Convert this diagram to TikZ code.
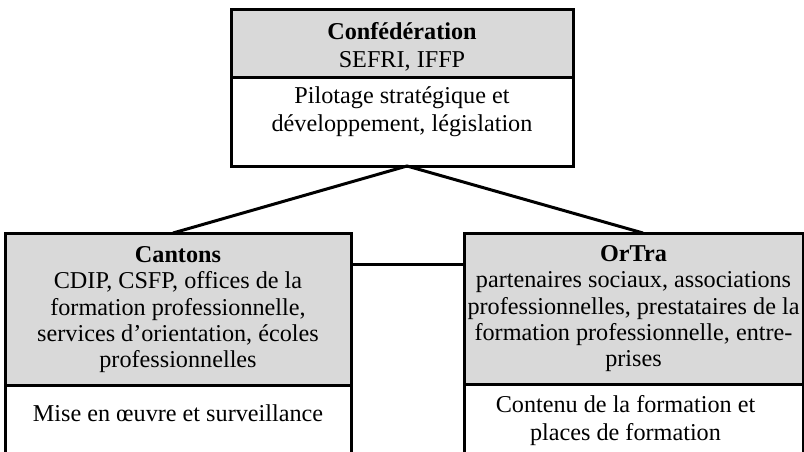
\documentclass[tikz,border=0pt]{standalone}
\usepackage{fontspec}
\setmainfont{Liberation Serif}
\usetikzlibrary{positioning}
\begin{document}
\begin{tikzpicture}[x=0.5pt,y=-0.5pt,
  every node/.style={font=\fontsize{12.1}{13.9}\selectfont},
  head/.style={draw,line width=1.5pt,fill=gray!30,align=center,outer sep=0pt,inner ysep=4pt,inner xsep=1pt},
  body/.style={draw,line width=1.5pt,fill=white,align=center,outer sep=0pt,inner ysep=4pt,inner xsep=1pt,below=0pt of #1},
  tight/.style={font=\fontsize{12.1}{13.1}\selectfont},
  link/.style={line width=1.5pt}]
\path[use as bounding box,clip] (0,0) rectangle (804,451);
% Confederation
\node[head,minimum width=171pt,text height=25pt,text depth=1pt] (H1) at (402,43)
  {\textbf{Confédération}\\SEFRI, IFFP};
\node[body=H1,minimum width=171pt,text height=23pt,text depth=13.5pt] (B1)
  {Pilotage stratégique et\\développement, législation};
% Cantons
\node[head,tight,minimum width=173pt,text height=63.25pt,text depth=4.75pt] (H2) at (178,309)
  {\textbf{Cantons}\\CDIP, CSFP, offices de la\\formation professionnelle,\\services d’orientation, écoles\\professionnelles};
\node[body=H2,minimum width=173pt,text height=14pt,text depth=40pt] (B2)
  {Mise en œuvre et surveillance};
% OrTra
\node[head,tight,minimum width=169.5pt,text height=62.75pt,text depth=4.75pt] (H3) at (633.5,308.5)
  {\textbf{OrTra}\\partenaires sociaux, associations\\professionnelles, prestataires de la\\formation professionnelle, entre-\\prises};
\node[body=H3,minimum width=169.5pt,text height=24pt,text depth=40pt] (B3)
  {Contenu de la formation et\kern8pt\\places de formation\kern8pt};
% links
\draw[link] ([xshift=-2.5pt]H2.north) -- ([xshift=2.5pt]B1.south) -- ([xshift=4.75pt]H3.north);
\draw[link] ([yshift=22.5pt]H2.east) -- ([yshift=22.5pt]H2.east -| H3.west);
\end{tikzpicture}
\end{document}
